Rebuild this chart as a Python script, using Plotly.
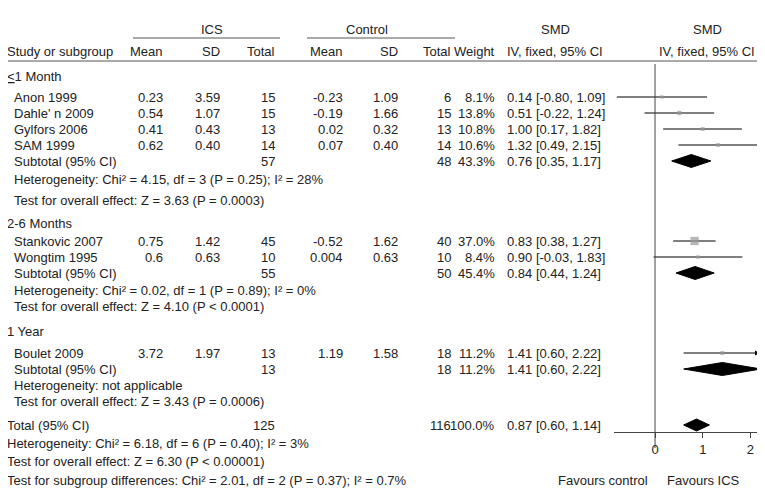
import plotly.graph_objects as go

studies = ["Anon 1999", "Dahle' n 2009", "Gylfors 2006", "SAM 1999", "Stankovic 2007", "Wongtim 1995", "Boulet 2009"]
ics_mean = ["0.23", "0.54", "0.41", "0.62", "0.75", "0.6", "3.72"]
ics_sd = ["3.59", "1.07", "0.43", "0.40", "1.42", "0.63", "1.97"]
ics_n = [15, 15, 13, 14, 45, 10, 13]
ctl_mean = ["-0.23", "-0.19", "0.02", "0.07", "-0.52", "0.004", "1.19"]
ctl_sd = ["1.09", "1.66", "0.32", "0.40", "1.62", "0.63", "1.58"]
ctl_n = [6, 15, 13, 14, 40, 10, 18]
weight = [8.1, 13.8, 10.8, 10.6, 37.0, 8.4, 11.2]
smd = [0.14, 0.51, 1.00, 1.32, 0.83, 0.90, 1.41]
lo = [-0.80, -0.22, 0.17, 0.49, 0.38, -0.03, 0.60]
hi = [1.09, 1.24, 1.82, 2.15, 1.27, 1.83, 2.22]
study_y = [81, 97, 113, 129, 225, 241, 337]

sub_names = ["Subtotal (95% CI)"] * 3 + ["Total (95% CI)"]
sub_ics_n = [57, 55, 13, 125]
sub_ctl_n = [48, 50, 18, 116]
sub_w = ["43.3%", "45.4%", "11.2%", "100.0%"]
sub_est = [0.76, 0.84, 1.41, 0.87]
sub_lo = [0.35, 0.44, 0.60, 0.60]
sub_hi = [1.17, 1.24, 2.22, 1.14]
sub_y = [145, 257, 353, 409]

groups = ["<u>&lt;</u>1 Month", "2-6 Months", "1 Year"]
group_y = [60, 207, 315]
notes = ["Heterogeneity: Chi² = 4.15, df = 3 (P = 0.25); I² = 28%",
         "Test for overall effect: Z = 3.63 (P = 0.0003)",
         "Heterogeneity: Chi² = 0.02, df = 1 (P = 0.89); I² = 0%",
         "Test for overall effect: Z = 4.10 (P < 0.0001)",
         "Heterogeneity: not applicable",
         "Test for overall effect: Z = 3.43 (P = 0.0006)",
         "Heterogeneity: Chi² = 6.18, df = 6 (P = 0.40); I² = 3%",
         "Test for overall effect: Z = 6.30 (P < 0.00001)",
         "Test for subgroup differences: Chi² = 2.01, df = 2 (P = 0.37); I² = 0.7%"]
note_y = [163, 184, 274, 290, 369, 385, 427, 445, 464]
note_x = [12, 12, 12, 12, 12, 12, 5, 5, 5]

XMIN, XMAX = -0.86, 2.2
W, H = 765, 488
OFF = 8
FONT = dict(family="Liberation Sans, Arial", size=13, color="#222")

def px(x):
    return (x - OFF) / W

fig = go.Figure()
anns = []
def txt(x, y, s, align="left"):
    anns.append(dict(x=px(x), y=y, xref="paper", yref="y", text=s, showarrow=False,
                     xanchor=align, yanchor="middle", font=FONT))

txt(212, 13, "ICS", "center"); txt(367, 13, "Control", "center")
txt(555, 13, "SMD", "center"); txt(707, 13, "SMD", "center")
txt(5, 35, "Study or subgroup")
for x, s in [(165, "Mean"), (222, "SD"), (277, "Total"), (345, "Mean"), (400, "SD"), (453, "Total"), (497, "Weight")]:
    txt(x, 35, s, "right")
txt(555, 35, "IV, fixed, 95% CI", "center"); txt(707, 35, "IV, fixed, 95% CI", "center")

shapes = [
    dict(type="line", xref="paper", yref="y", x0=px(133), x1=px(280), y0=22, y1=22, line=dict(color="#555", width=1)),
    dict(type="line", xref="paper", yref="y", x0=px(307), x1=px(455), y0=22, y1=22, line=dict(color="#555", width=1)),
    dict(type="line", xref="paper", yref="y", x0=px(0), x1=px(765), y0=45, y1=45, line=dict(color="#555", width=1)),
    dict(type="line", xref="x", yref="y", x0=0, x1=0, y0=48, y1=432, line=dict(color="#444", width=1)),
]

for g, y in zip(groups, group_y):
    txt(5, y, g)
for i, s in enumerate(studies):
    y = study_y[i]
    txt(12, y, s)
    txt(165, y, ics_mean[i], "right"); txt(222, y, ics_sd[i], "right"); txt(277, y, str(ics_n[i]), "right")
    txt(345, y, ctl_mean[i], "right"); txt(400, y, ctl_sd[i], "right"); txt(453, y, str(ctl_n[i]), "right")
    txt(497, y, f"{weight[i]:.1f}%", "right")
    txt(505, y, f"{smd[i]:.2f} [{lo[i]:.2f}, {hi[i]:.2f}]")
    h = min(hi[i], XMAX)
    fig.add_trace(go.Scatter(x=[lo[i], h], y=[y, y], mode="lines", line=dict(color="black", width=1), hoverinfo="skip"))
    if hi[i] > XMAX:
        anns.append(dict(x=XMAX, y=y, ax=XMAX - 0.1, ay=y, xref="x", yref="y", axref="x", ayref="y",
                         text="", showarrow=True, arrowhead=2, arrowsize=1, arrowwidth=1, arrowcolor="black"))
fig.add_trace(go.Scatter(x=smd, y=study_y, mode="markers", hoverinfo="skip",
                         marker=dict(symbol="square", color="#999", size=[2 + w * 0.17 for w in weight], line=dict(width=0))))

for i in range(4):
    y = sub_y[i]
    txt(12 if i < 3 else 5, y, sub_names[i])
    txt(277, y, str(sub_ics_n[i]), "right"); txt(453, y, str(sub_ctl_n[i]), "right")
    txt(497, y, sub_w[i], "right")
    txt(505, y, f"{sub_est[i]:.2f} [{sub_lo[i]:.2f}, {sub_hi[i]:.2f}]")
    h = 6.5 if i < 3 else 6
    fig.add_trace(go.Scatter(x=[sub_lo[i], sub_est[i], min(sub_hi[i], XMAX + 0.05), sub_est[i], sub_lo[i]],
                             y=[y, y - h, y, y + h, y], fill="toself", fillcolor="black", mode="lines",
                             line=dict(color="black", width=1), hoverinfo="skip"))

for s, x, y in zip(notes, note_x, note_y):
    txt(x, y, s)
txt(650, 464, "Favours control", "right"); txt(665, 464, "Favours ICS")

fig.update_layout(width=W, height=H, margin=dict(l=0, r=0, t=0, b=0), showlegend=False,
                  plot_bgcolor="white", paper_bgcolor="white", annotations=anns, shapes=shapes, font=FONT,
                  xaxis=dict(range=[XMIN, XMAX], domain=[px(614), px(760)], anchor="free", position=1 - (432 - OFF) / H,
                             showline=True, linecolor="#444", ticks="outside", ticklen=5, tickcolor="#444",
                             tickvals=[0, 1, 2], showgrid=False, zeroline=False, tickfont=dict(size=13)),
                  yaxis=dict(range=[H - OFF, -OFF], domain=[0, 1], visible=False))
fig.write_html("out.html")
